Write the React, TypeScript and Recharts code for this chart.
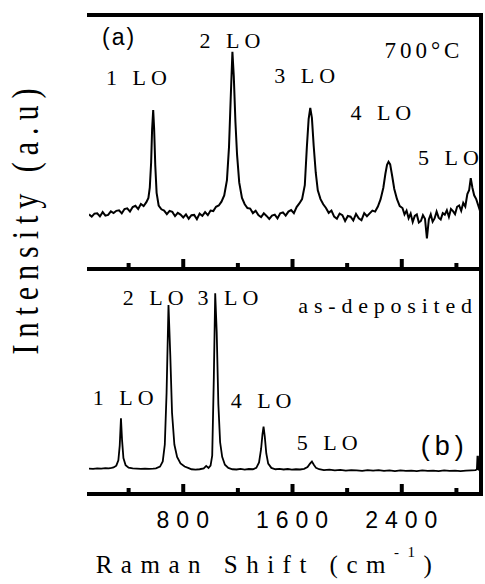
import { LineChart, Line, XAxis, YAxis, ReferenceLine, ReferenceDot } from 'recharts';

// (a) 700°C annealed film
const shiftA = [
  110, 130, 150, 170, 190, 210, 230, 250, 270, 290,
  310, 330, 350, 370, 390, 410, 430, 450, 470, 490,
  510, 530, 545, 555, 565, 572, 580, 587, 595, 605,
  620, 640, 660, 680, 700, 720, 740, 760, 780, 800,
  820, 840, 860, 880, 900, 920, 940, 960, 980, 1000,
  1020, 1040, 1060, 1080, 1100, 1120, 1135, 1148, 1160, 1170,
  1182, 1194, 1210, 1230, 1250, 1270, 1290, 1310, 1330, 1350,
  1370, 1390, 1410, 1430, 1450, 1470, 1490, 1510, 1530, 1550,
  1570, 1590, 1610, 1630, 1650, 1670, 1690, 1705, 1718, 1730,
  1742, 1755, 1770, 1785, 1805, 1825, 1845, 1865, 1885, 1905,
  1925, 1945, 1965, 1985, 2005, 2025, 2045, 2065, 2085, 2105,
  2125, 2145, 2165, 2185, 2205, 2225, 2245, 2265, 2280, 2292,
  2303, 2315, 2330, 2345, 2365, 2385, 2405, 2420, 2435, 2450,
  2465, 2480, 2495, 2510, 2525, 2540, 2555, 2570, 2584, 2598,
  2612, 2626, 2640, 2655, 2670, 2685, 2700, 2715, 2730, 2745,
  2760, 2775, 2790, 2805, 2820, 2835, 2850, 2865, 2880, 2893,
  2905, 2917, 2930, 2945, 2960, 2975, 2980,
];
const intensityA = [
  21.5, 20.6, 21.8, 21.9, 20.7, 22.4, 21.0, 21.3, 22.7, 22.0,
  22.9, 23.1, 21.9, 23.6, 23.9, 22.6, 24.4, 24.9, 23.6, 25.6,
  24.8, 26.3, 28.0, 32.0, 42.0, 55.0, 62.6, 55.0, 41.0, 30.0,
  25.0, 23.5, 23.0, 21.6, 22.9, 22.5, 20.8, 22.1, 21.4, 20.3,
  21.5, 19.8, 21.2, 21.3, 19.6, 21.8, 20.9, 22.4, 21.2, 23.0,
  22.8, 24.5, 25.0, 26.5, 29.0, 35.0, 48.0, 68.0, 85.5, 76.0,
  58.0, 45.0, 34.0, 28.0, 25.5, 24.0, 23.8, 22.0, 22.9, 21.2,
  20.4, 21.9, 20.9, 19.7, 21.0, 21.4, 19.9, 21.9, 22.3, 21.0,
  22.6, 23.2, 22.0, 24.4, 25.8, 27.5, 33.0, 48.0, 59.0, 63.4,
  59.5, 48.5, 38.0, 31.0, 27.5, 25.5, 24.0, 22.1, 23.0, 20.6,
  19.8, 21.8, 21.2, 18.9, 20.9, 20.6, 19.1, 21.7, 20.0, 19.2,
  22.0, 20.8, 21.9, 23.0, 22.6, 24.6, 27.5, 32.0, 37.5, 41.0,
  42.2, 41.2, 36.5, 31.5, 27.5, 24.8, 24.0, 21.5, 23.0, 20.0,
  21.8, 18.5, 20.9, 21.5, 18.3, 18.9, 21.2, 19.8, 12.0, 19.5,
  21.5, 18.6, 19.9, 22.6, 20.2, 19.5, 22.0, 21.4, 23.1, 20.5,
  23.6, 22.8, 21.6, 24.5, 25.0, 22.9, 26.0, 24.6, 29.5, 31.0,
  35.8, 32.0, 29.0, 27.5, 25.0, 22.5, 22.0,
];

// (b) as-deposited film
const shiftB = [
  110, 140, 170, 200, 230, 255, 275, 290, 310, 325,
  335, 344, 352, 362, 378, 400, 430, 460, 490, 520,
  550, 580, 600, 630, 650, 665, 678, 692, 705, 718,
  735, 755, 780, 810, 840, 860, 890, 920, 950, 968,
  985, 1000, 1012, 1024, 1034, 1045, 1057, 1070, 1085, 1105,
  1130, 1160, 1190, 1220, 1250, 1280, 1310, 1335, 1355, 1370,
  1380, 1388, 1397, 1408, 1422, 1445, 1475, 1505, 1535, 1565,
  1595, 1625, 1655, 1685, 1710, 1728, 1742, 1756, 1772, 1795,
  1830, 1870, 1910, 1950, 1990, 2030, 2070, 2110, 2150, 2190,
  2230, 2270, 2310, 2350, 2390, 2430, 2470, 2510, 2550, 2590,
  2630, 2670, 2710, 2750, 2790, 2830, 2870, 2910, 2940, 2950,
  2954, 2958, 2962, 2970, 2980,
];
const intensityB = [
  11.3, 11.2, 11.4, 11.3, 11.5, 11.4, 11.6, 11.8, 12.6, 15.0,
  21.5, 33.6, 24.0, 16.0, 12.8, 11.7, 11.4, 11.3, 11.2, 11.3,
  11.2, 11.3, 11.4, 12.2, 14.5, 22.0, 45.0, 84.0, 62.0, 36.0,
  22.0, 16.5, 13.6, 12.2, 11.5, 11.0, 10.8, 11.0, 11.4, 12.5,
  11.6, 12.6, 17.0, 52.0, 89.2, 72.0, 40.0, 23.0, 16.5, 13.0,
  11.6, 11.0, 10.9, 11.2, 10.8, 11.1, 11.0, 11.6, 14.0, 20.0,
  26.5, 29.9, 25.5, 18.0, 13.5, 11.6, 11.0, 11.2, 10.9, 11.1,
  10.8, 11.0, 10.9, 11.2, 12.0, 13.5, 14.4, 13.0, 11.6, 11.0,
  10.6, 10.8, 10.5, 10.7, 10.4, 10.6, 10.5, 10.3, 10.6, 10.4,
  10.6, 10.3, 10.5, 10.2, 10.5, 10.3, 10.4, 10.2, 10.5, 10.3,
  10.4, 10.2, 10.5, 10.3, 10.4, 10.2, 10.4, 10.5, 10.6, 11.0,
  16.6, 16.6, 10.8, 10.6, 10.6,
];

const tickValues = [400, 800, 1200, 1600, 2000, 2400, 2800];
const labelledTicks = [800, 1600, 2400];

const SERIF = "'Liberation Serif', 'Times New Roman', serif";
const SANS = "'Liberation Sans', Arial, sans-serif";

type Note = { text: string; x: number; y: number; sans?: boolean; size?: number; gap?: number };

const notesA: Note[] = [
  { text: '(a)', x: 330, y: 88, sans: true, size: 23, gap: 2 },
  { text: '1 LO', x: 475, y: 72.4 },
  { text: '2 LO', x: 1160, y: 87 },
  { text: '3 LO', x: 1708, y: 73.2 },
  { text: '4 LO', x: 2265, y: 58.7 },
  { text: '5 LO', x: 2760, y: 40.9 },
  { text: '700°C', x: 2562, y: 83, size: 23, gap: 4 },
];

const notesB: Note[] = [
  { text: '1 LO', x: 378, y: 39.6 },
  { text: '2 LO', x: 598, y: 84 },
  { text: '3 LO', x: 1146, y: 84 },
  { text: '4 LO', x: 1388, y: 38.2 },
  { text: '5 LO', x: 1872, y: 19.6 },
  { text: 'as-deposited', x: 2300, y: 80.4, gap: 5.8 },
  { text: '(b)', x: 2715, y: 17.3, sans: true, size: 27, gap: 5 },
];

const XMIN = 110;
const XMAX = 2980;
const frame = { stroke: '#000', strokeWidth: 4, strokeLinecap: 'square' as const };

const makeTick = (withLabel: boolean) => (props: any) => {
  const { x, y, payload } = props;
  const major = labelledTicks.includes(payload.value);
  return (
    <g>
      <line x1={x} x2={x} y1={y} y2={y - (major ? 10 : 6)} stroke="#000" strokeWidth={4} />
      {withLabel && major && (
        <text x={x + 3} y={y + 34} textAnchor="middle" style={{ fontFamily: SANS }} fontSize={23} letterSpacing={7} fill="#000">
          {payload.value}
        </text>
      )}
    </g>
  );
};

const renderNotes = (notes: Note[]) =>
  notes.map((n) => (
    <ReferenceDot
      key={n.text}
      x={n.x}
      y={n.y}
      r={0}
      shape={(p: any) => (
        <text
          x={p.cx}
          y={p.cy}
          textAnchor="middle"
          style={{ fontFamily: n.sans ? SANS : SERIF }}
          fontSize={n.size ?? 22}
          letterSpacing={n.gap ?? 5}
          fill="#000"
        >
          {n.text}
        </text>
      )}
    />
  ));

const Panel = ({ xs, ys, notes, height, top, axisHeight, labels }: any) => {
  const data = xs.map((x: number, i: number) => ({ x, y: ys[i] }));
  return (
    <div style={{ position: 'absolute', left: 0, top }}>
      <LineChart width={485} height={height} data={data} margin={{ top: top === 0 ? 15 : 19, right: 4, left: 89, bottom: 0 }}>
        <XAxis
          dataKey="x"
          type="number"
          domain={[XMIN, XMAX]}
          allowDataOverflow
          ticks={tickValues}
          height={axisHeight}
          tickSize={0}
          tickMargin={0}
          tickLine={false}
          axisLine={frame}
          tick={makeTick(labels)}
        />
        <YAxis type="number" domain={[0, 100]} width={0} tick={false} tickLine={false} axisLine={frame} />
        <ReferenceLine y={100} {...frame} />
        <ReferenceLine x={XMAX} {...frame} />
        <Line dataKey="y" stroke="#000" strokeWidth={labels ? 1.8 : 2} dot={false} isAnimationActive={false} />
        {renderNotes(notes)}
      </LineChart>
    </div>
  );
};

export default function App() {
  return (
    <div style={{ position: 'absolute', left: 0, top: 0, width: 485, height: 584, background: '#fff' }}>
      <Panel xs={shiftA} ys={intensityA} notes={notesA} height={280} top={0} axisHeight={11} labels={false} />
      <Panel xs={shiftB} ys={intensityB} notes={notesB} height={334} top={250} axisHeight={90} labels={true} />
      <svg width={485} height={584} style={{ position: 'absolute', left: 0, top: 0, pointerEvents: 'none' }}>
        <text
          transform="translate(38,218) rotate(-90) scale(1,1.25)"
          textAnchor="middle"
          style={{ fontFamily: SERIF }}
          fontSize={30}
          letterSpacing={7}
          fill="#000"
        >
          Intensity (a.u)
        </text>
        <text x={268} y={573} textAnchor="middle" style={{ fontFamily: SERIF }} fontSize={25} letterSpacing={8.5} fill="#000">
          Raman Shift (cm
          <tspan dy={-16} fontSize={15}>-1</tspan>
          <tspan dy={16}>)</tspan>
        </text>
      </svg>
    </div>
  );
}
